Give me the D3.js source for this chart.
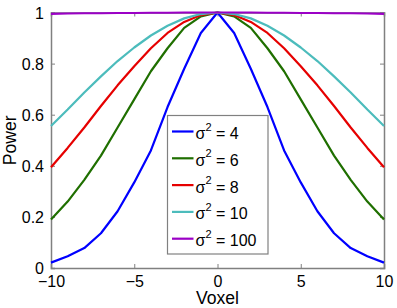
<!DOCTYPE html>
<html>
<head>
<meta charset="utf-8">
<script src="https://cdn.jsdelivr.net/npm/d3@7"></script>
<style>
  body { margin: 0; background: #fff; }
  text { font-family: "Liberation Sans", Arial, Helvetica, sans-serif; }
</style>
</head>
<body>
<svg id="drawing_region"></svg>
<script>
// voxel positions and the power curves (symmetric about 0)
const voxels = d3.range(-10, 11);
const half4   = [1, 0.92, 0.78, 0.63, 0.46, 0.335, 0.222, 0.136, 0.078, 0.046, 0.021];
const half6   = [1, 0.985, 0.94, 0.86, 0.77, 0.66, 0.55, 0.44, 0.345, 0.26, 0.19];
const half8   = [1, 0.99, 0.963, 0.92, 0.86, 0.79, 0.715, 0.634, 0.55, 0.47, 0.394];
const half10  = [1, 0.994, 0.977, 0.948, 0.91, 0.863, 0.81, 0.75, 0.687, 0.62, 0.556];
const half100 = [1, 1, 1, 0.999, 0.999, 0.998, 0.998, 0.997, 0.997, 0.996, 0.995];
const seriesNames = ["4", "6", "8", "10", "100"];
const seriesColors = ["#0000ff", "#1f6f00", "#e60000", "#4cbcbc", "#9b00c6"];
const xTicks = [-10, -5, 0, 5, 10];
const yTicks = [0, 0.2, 0.4, 0.6, 0.8, 1];

const mirror = h => h.slice(1).reverse().concat(h);
const series = [half4, half6, half8, half10, half100].map((h, i) => ({
    name: seriesNames[i],
    color: seriesColors[i],
    values: mirror(h).map((p, j) => ({ v: voxels[j], p: p }))
}));

const config = {
    width: 397,
    height: 308,
    margin: {top: 12.5, right: 13, bottom: 40, left: 51}
};

const svg = d3.select('#drawing_region')
    .attr('width', config.width)
    .attr('height', config.height);

const inner_width = config.width - config.margin.left - config.margin.right;
const inner_height = config.height - config.margin.top - config.margin.bottom;

const chart = svg.append('g')
    .attr('transform', `translate(${config.margin.left}, ${config.margin.top})`);

const xscale = d3.scaleLinear().domain([-10, 10]).range([0, inner_width]);
const yscale = d3.scaleLinear().domain([0, 1]).range([inner_height, 0]);

const axisColor = '#808080';

// axes (ticks inward) on all four sides
const xaxis = d3.axisBottom(xscale).tickValues(xTicks).tickSize(-4).tickPadding(8)
    .tickFormat(d => d < 0 ? '\u2212' + Math.abs(d) : d);
const yaxis = d3.axisLeft(yscale).tickValues(yTicks).tickSize(-4).tickPadding(7)
    .tickFormat(d => d3.format('~g')(d));

const gx = chart.append('g').attr('transform', `translate(0, ${inner_height})`).call(xaxis);
const gy = chart.append('g').call(yaxis);
const gxt = chart.append('g').call(d3.axisTop(xscale).tickValues(xTicks).tickSize(-4).tickFormat(''));
const gyr = chart.append('g').attr('transform', `translate(${inner_width}, 0)`)
    .call(d3.axisRight(yscale).tickValues(yTicks).tickSize(-4).tickFormat(''));

[gx, gy, gxt, gyr].forEach(g => {
    g.selectAll('path').attr('stroke', axisColor).attr('stroke-width', 1.5);
    g.selectAll('line').attr('stroke', axisColor);
    g.selectAll('text').attr('fill', '#000').style('font-size', '16px')
        .style('font-family', '"Liberation Sans", Arial, sans-serif');
});
gy.selectAll('text').attr('dy', '0.36em');

// lines
const line = d3.line().x(d => xscale(d.v)).y(d => yscale(d.p));
chart.selectAll('.curve')
    .data(series)
    .enter()
    .append('path')
    .attr('class', 'curve')
    .attr('fill', 'none')
    .attr('stroke', d => d.color)
    .attr('stroke-width', 2.2)
    .attr('stroke-linejoin', 'round')
    .attr('d', d => line(d.values));

// labels
svg.append('text')
    .attr('text-anchor', 'middle')
    .attr('x', config.margin.left + inner_width / 2)
    .attr('y', 304)
    .style('font-size', '17.6px')
    .text('Voxel');

svg.append('text')
    .attr('text-anchor', 'middle')
    .attr('transform', `translate(16, ${config.margin.top + inner_height / 2}) rotate(-90)`)
    .style('font-size', '17.6px')
    .text('Power');

// legend
const legend = svg.append('g');
legend.append('rect')
    .attr('x', 167.5).attr('y', 115.5)
    .attr('width', 100.5).attr('height', 138.5)
    .attr('fill', '#fff')
    .attr('stroke', axisColor)
    .attr('stroke-width', 1.2);

const items = legend.selectAll('.item')
    .data(series)
    .enter()
    .append('g')
    .attr('class', 'item')
    .attr('transform', (d, i) => `translate(0, ${131.5 + i * 26.8})`);

items.append('line')
    .attr('x1', 172).attr('x2', 193.5)
    .attr('stroke', d => d.color)
    .attr('stroke-width', 2.2);

const label = items.append('text')
    .attr('x', 195.5)
    .attr('y', 7.5)
    .style('font-size', '16px');
label.append('tspan').text('\u03c3');
label.append('tspan').attr('dy', -8.5).style('font-size', '11px').text('2');
label.append('tspan').attr('dy', 8.5).text(d => ' = ' + d.name);
</script>
</body>
</html>
